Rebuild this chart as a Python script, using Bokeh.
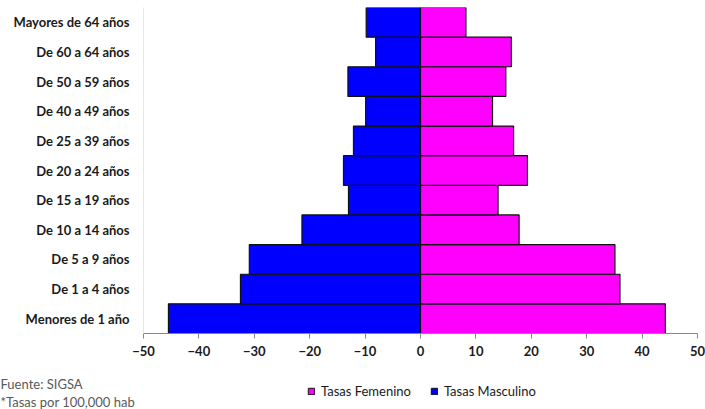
from bokeh.plotting import figure
from bokeh.layouts import column
from bokeh.models import FactorRange, Range1d, FixedTicker, Legend, LegendItem
from bokeh.core.properties import value
from bokeh.embed import file_html
from bokeh.resources import INLINE

categories = ["Menores de 1 año", "De 1 a 4 años", "De 5 a 9 años", "De 10 a 14 años",
              "De 15 a 19 años", "De 20 a 24 años", "De 25 a 39 años", "De 40 a 49 años",
              "De 50 a 59 años", "De 60 a 64 años", "Mayores de 64 años"]
masculino = [-45.5, -32.5, -30.9, -21.4, -13.0, -13.9, -12.1, -9.9, -13.1, -8.1, -9.8]
femenino = [44.2, 36.0, 35.1, 17.8, 14.0, 19.3, 16.8, 13.0, 15.4, 16.4, 8.2]
x_ticks = [-50, -40, -30, -20, -10, 0, 10, 20, 30, 40, 50]
notas = ["Fuente: SIGSA", "*Tasas por 100,000 hab"]
serie_labels = ["Tasas Femenino", "Tasas Masculino"]

FONT = "Lato"
PINK = "#FF00FF"
BLUE = "#0000FF"

p = figure(width=705, height=366, y_range=FactorRange(factors=categories, range_padding=0),
           x_range=Range1d(-50, 50), output_backend="svg", toolbar_location=None,
           min_border_left=143, min_border_right=8, min_border_top=7, min_border_bottom=33)
p.outline_line_color = None
p.xgrid.visible = False
p.ygrid.visible = False

r_m = p.hbar(y=categories, left=masculino, right=0, height=1.0,
             fill_color=BLUE, line_color="#111111", line_width=1.2)
r_f = p.hbar(y=categories, left=0, right=femenino, height=1.0,
             fill_color=PINK, line_color="#111111", line_width=1.2)

p.xaxis.ticker = FixedTicker(ticks=x_ticks)
p.xaxis.axis_line_color = "#868686"
p.xaxis.major_tick_line_color = "#868686"
p.xaxis.major_tick_out = 5
p.xaxis.major_tick_in = 0
p.xaxis.minor_tick_line_color = None
p.xaxis.major_label_text_font = FONT
p.xaxis.major_label_text_font_style = "bold"
p.xaxis.major_label_text_font_size = "13px"
p.xaxis.major_label_text_color = "#1a1a1a"
p.xaxis.major_label_standoff = 7

p.yaxis.axis_line_color = "#e6e6e6"
p.yaxis.major_tick_line_color = None
p.yaxis.minor_tick_line_color = None
p.yaxis.major_label_text_font = FONT
p.yaxis.major_label_text_font_style = "bold"
p.yaxis.major_label_text_font_size = "13px"
p.yaxis.major_label_text_color = "#1a1a1a"
p.yaxis.major_label_standoff = 8

# footer: notes + legend (y measured downward in page pixels)
f = figure(width=705, height=43, x_range=Range1d(0, 705), y_range=Range1d(409, 366),
           output_backend="svg", toolbar_location=None,
           min_border_left=0, min_border_right=0, min_border_top=0, min_border_bottom=0)
for fig in (p, f):
    if "frame_align" in fig.properties():
        fig.frame_align = False
f.axis.visible = False
f.xgrid.visible = False
f.ygrid.visible = False
f.outline_line_color = None
f.text(x=[0, 0], y=[383, 401], text=notas, text_font=value(FONT), text_font_size="13px",
       text_color="#595959", text_baseline="middle", text_align="left")

# legend swatches: hidden stand-in renderers carrying the series styles
lf = f.hbar(y=[0], left=[0], right=[1], height=1, fill_color=PINK, line_color="#111111",
            line_width=1, visible=False)
lm = f.hbar(y=[0], left=[0], right=[1], height=1, fill_color=BLUE, line_color="#111111",
            line_width=1, visible=False)
legend = Legend(items=[LegendItem(label=serie_labels[0], renderers=[lf]),
                       LegendItem(label=serie_labels[1], renderers=[lm])],
                orientation="horizontal", location=(307, 10),
                glyph_width=8, glyph_height=8, label_height=14, label_width=10,
                label_text_font=FONT, label_text_font_size="13px", label_text_color="#1a1a1a",
                label_standoff=6, spacing=19, padding=0, margin=0,
                inactive_fill_alpha=0,
                border_line_color=None, background_fill_alpha=0)
f.add_layout(legend, "center")

layout = column(p, f, spacing=0)
open("out.html", "w").write(file_html(layout, INLINE))
